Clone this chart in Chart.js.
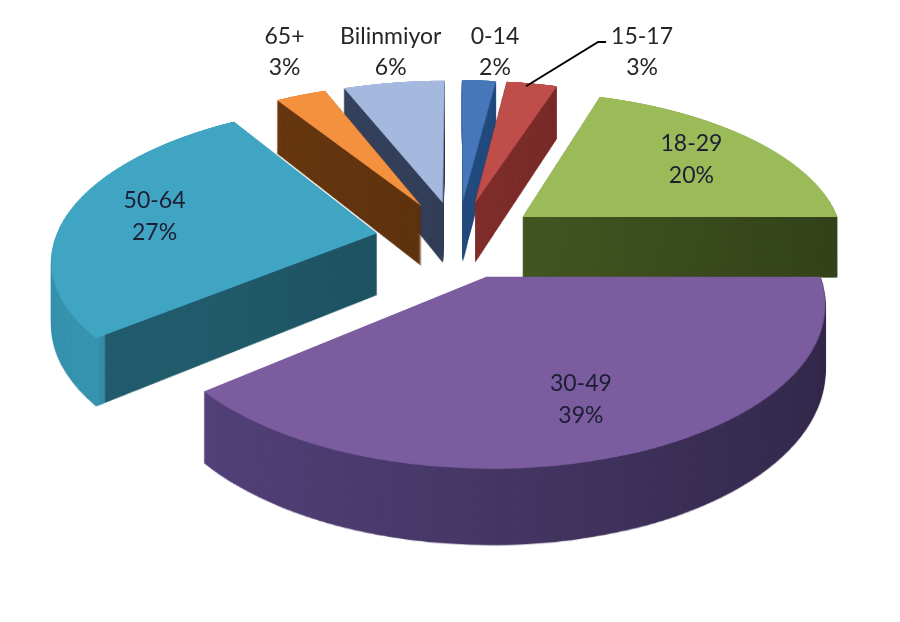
<!DOCTYPE html>
<html>
<head>
<meta charset="utf-8">
<script src="https://cdn.jsdelivr.net/npm/chart.js@4.4.1/dist/chart.umd.min.js"></script>
<style>
html, body { margin: 0; padding: 0; background: #fff; }
#view { display: block; }
#work { position: absolute; left: -3000px; top: 0; }
</style>
</head>
<body>
<canvas id="view" width="900" height="622"></canvas>
<div id="work">
  <canvas id="topSrc" width="816" height="816"></canvas>
  <canvas id="sideSrc" width="816" height="816"></canvas>
  <canvas id="rimSrc" width="816" height="816"></canvas>
</div>
<script>
// data
const categories = ['0-14', '15-17', '18-29', '30-49', '50-64', '65+', 'Bilinmiyor'];
const shares = [2, 3, 20, 39, 27, 3, 6];

// styling
const topColors  = ['#4577ba', '#bf4d4a', '#9bbb59', '#7a5c9f', '#40a5c3', '#f4913f', '#a5b9de'];
const sideColors = ['#2f5d99', '#9a3936', '#526a29', '#46376a', '#235d6d', '#6e3c13', '#3d4a68']; // cut faces
const rimColors  = ['#2f5d99', '#9a3936', '#526a29', '#54437a', '#3a95b0', '#6e3c13', '#3d4a68']; // outer walls
const labelInside = [false, false, true, true, true, false, false];
const labelNudge  = [16, 110, 0, 0, 0, -16, -3];
const leader      = [false, true, false, false, false, false, false];

// 3d view parameters (screen px)
const RADIUS = 322;      // pie radius in the flat source
const EXPLODE = 82;      // explosion distance
const CX = 457.6, CY = 239.2;
const SQUASH = 150.75;   // vertical half-size of the tilted disc at centre depth
const PERSP = 0.15;      // perspective strength
const DEPTH = 62;        // thickness of the pie at centre depth
const DEPTH_GROW = 0.0625; // thickness grows towards the viewer

const explode = {
  id: 'explode',
  beforeDatasetDraw(chart, args) {
    const ctx = chart.ctx;
    args.meta.data.forEach(arc => {
      const mid = (arc.startAngle + arc.endAngle) / 2;
      ctx.save();
      ctx.translate(Math.cos(mid) * EXPLODE, Math.sin(mid) * EXPLODE);
      arc.draw(ctx);
      ctx.restore();
    });
    return false;
  }
};

function makePie(id, colors, radius, cutout) {
  return new Chart(document.getElementById(id), {
    type: 'doughnut',
    data: {
      labels: categories,
      datasets: [{ data: shares, backgroundColor: colors, borderWidth: 0, radius: radius }]
    },
    options: {
      responsive: false,
      animation: false,
      devicePixelRatio: 1,
      events: [],
      cutout: cutout,
      layout: { padding: 0 },
      plugins: { legend: { display: false }, tooltip: { enabled: false } }
    },
    plugins: [explode]
  });
}

const topChart = makePie('topSrc', topColors, RADIUS, 0);
const sideChart = makePie('sideSrc', sideColors, RADIUS - 3, 0);
const rimChart = makePie('rimSrc', rimColors, RADIUS, '97%');

const arcs = topChart.getDatasetMeta(0).data;
const SC = arcs[0].x;  // centre of the flat pie in the source canvas
const SR = arcs[0].y;

// wall source = cut-face colour with a thin outer wall ring on top
const wsrc = document.createElement('canvas');
wsrc.width = sideChart.canvas.width;
wsrc.height = sideChart.canvas.height;
const wsg = wsrc.getContext('2d');
wsg.drawImage(sideChart.canvas, 0, 0);
wsg.drawImage(rimChart.canvas, 0, 0);

function project(u, v) {
  const n = v / RADIUS;
  const w = 1 - PERSP * n;
  return { x: CX + u / w, y: CY + SQUASH * n / w };
}

// perspective mapping of a flat source onto the tilted plane, row by row
function projectInto(ctx, src) {
  ctx.imageSmoothingEnabled = true;
  for (let Y = 50; Y < 510; Y++) {
    const d0 = Y - CY, d1 = Y + 1 - CY;
    const n0 = d0 / (SQUASH + PERSP * d0);
    const n1 = d1 / (SQUASH + PERSP * d1);
    const s0 = SR + n0 * RADIUS, s1 = SR + n1 * RADIUS;
    if (s1 < 0 || s0 > src.height) continue;
    const sx = 1 / (1 - PERSP * (n0 + n1) / 2);
    ctx.drawImage(src, 0, s0, src.width, s1 - s0, CX - SC * sx, Y, src.width * sx, 1);
  }
}

const view = document.getElementById('view');
const g = view.getContext('2d');
g.fillStyle = '#fff';
g.fillRect(0, 0, view.width, view.height);

// side walls: projected wall colours stacked downward through the thickness
const flatWall = document.createElement('canvas');
flatWall.width = view.width;
flatWall.height = view.height;
projectInto(flatWall.getContext('2d'), wsrc);

const wallLayer = document.createElement('canvas');
wallLayer.width = view.width;
wallLayer.height = view.height;
const wg = wallLayer.getContext('2d');
const steps = Math.round(DEPTH * 1.3);
for (let t = steps; t >= 1; t--) {
  const s = t / steps;
  const dy = s * (DEPTH - DEPTH_GROW * CY);
  wg.drawImage(flatWall, 0, dy, view.width, view.height * (1 + s * DEPTH_GROW));
}
wg.globalCompositeOperation = 'source-atop';
const shade = wg.createLinearGradient(200, 0, 840, 0);
shade.addColorStop(0, 'rgba(0,0,0,0)');
shade.addColorStop(1, 'rgba(0,0,0,0.38)');
wg.fillStyle = shade;
wg.fillRect(0, 0, wallLayer.width, wallLayer.height);
g.drawImage(wallLayer, 0, 0);

// top faces
projectInto(g, topChart.canvas);

// data labels
g.font = '23px Lato';
g.textAlign = 'center';
g.textBaseline = 'middle';
arcs.forEach((arc, i) => {
  const mid = (arc.startAngle + arc.endAngle) / 2;
  const pct = shares[i] + '%';
  if (labelInside[i]) {
    const rr = EXPLODE + 0.72 * arc.outerRadius;
    const p = project(Math.cos(mid) * rr, Math.sin(mid) * rr);
    g.fillStyle = '#1d1d33';
    g.fillText(categories[i], p.x, p.y - 16);
    g.fillText(pct, p.x, p.y + 16);
  } else {
    const rr = EXPLODE + arc.outerRadius;
    const p = project(Math.cos(mid) * rr, Math.sin(mid) * rr);
    const x = p.x + labelNudge[i];
    g.fillStyle = '#262626';
    g.fillText(categories[i], x, 37);
    g.fillText(pct, x, 68);
    if (leader[i]) {
      const left = x - g.measureText(categories[i]).width / 2 - 5;
      g.strokeStyle = '#000';
      g.lineWidth = 2;
      g.beginPath();
      g.moveTo(left, 42);
      g.lineTo(left - 8, 42);
      g.lineTo(p.x - 6, p.y + 3);
      g.stroke();
    }
  }
});
</script>
</body>
</html>
